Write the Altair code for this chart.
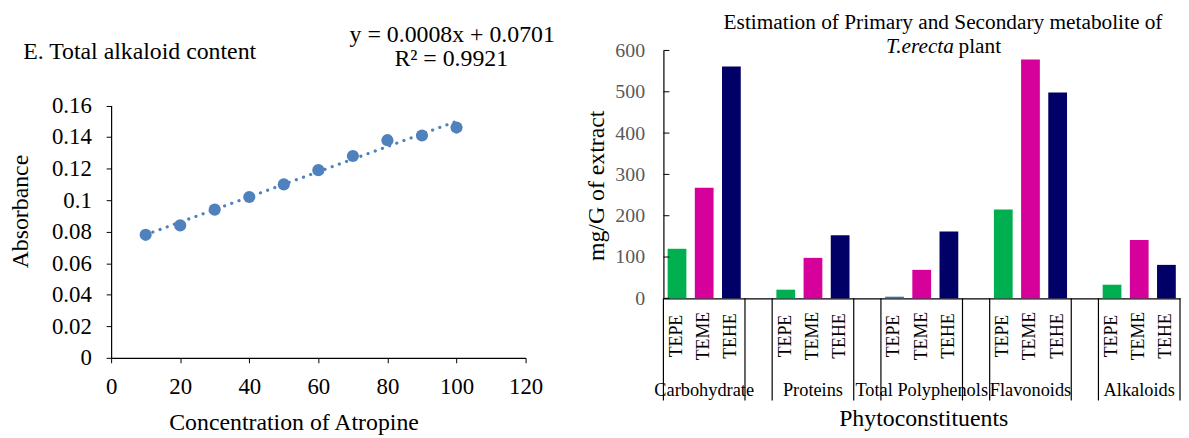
import altair as alt
import pandas as pd

# ---------------- Left panel data ----------------
conc = [10, 20, 30, 40, 50, 60, 70, 80, 90, 100]
absorb = [0.078, 0.084, 0.094, 0.102, 0.110, 0.119, 0.128, 0.138, 0.141, 0.146]
conc_ticks = [0, 20, 40, 60, 80, 100, 120]
absorb_ticks = [0, 0.02, 0.04, 0.06, 0.08, 0.1, 0.12, 0.14, 0.16]
left_heading = "E. Total alkaloid content"
equation = "y = 0.0008x + 0.0701"
r_squared = "R² = 0.9921"

# ---------------- Right panel data ----------------
constituents = ["Carbohydrate", "Proteins", "Total Polyphenols", "Flavonoids", "Alkaloids"]
extracts = ["TEPE", "TEME", "TEHE"]
tepe = [120, 21, 4, 215, 33]
teme = [268, 98, 69, 578, 141]
tehe = [561, 153, 162, 498, 81]
value_ticks = [0, 100, 200, 300, 400, 500, 600]
title_line1 = "Estimation of Primary and Secondary metabolite of"
title_italic = "T.erecta"
title_plain = "plant"

FONT = "Liberation Serif"
BLUE = "#4f81bd"
extract_colors = ["#00b050", "#d6009a", "#000066"]

common_axis = dict(
    grid=False, domainColor="black", tickColor="black", domainWidth=1.2,
    labelFont=FONT, titleFont=FONT, titleFontWeight="normal", titleColor="black",
)

# ---------------- Left chart ----------------
W1, H1 = 418, 310
left_df = pd.DataFrame({"conc": conc, "absorbance": absorb})

x_left = alt.X(
    "conc:Q",
    scale=alt.Scale(domain=[0, 120], nice=False),
    axis=alt.Axis(
        values=conc_ticks, tickSize=5, labelPadding=31, labelBaseline="alphabetic",
        labelFontSize=23, labelColor="black", labelFlush=False, labelOverlap=False,
        title="Concentration of Atropine", titleFontSize=24, titleX=184, titleY=72,
        titleAlign="center", titleBaseline="alphabetic", **common_axis,
    ),
)
y_left = alt.Y(
    "absorbance:Q",
    scale=alt.Scale(domain=[0, 0.16], nice=False, range=[H1, 55.5]),
    axis=alt.Axis(
        values=absorb_ticks, format="~g", tickSize=5, labelPadding=15,
        labelFontSize=23, labelColor="black", labelFlush=False, labelOverlap=False,
        title="Absorbance", titleFontSize=24, titleX=-91.5, titleY=162,
        titleAngle=270, titleAlign="center", titleBaseline="middle", **common_axis,
    ),
)

base_left = alt.Chart(left_df)
trend = base_left.transform_regression("conc", "absorbance").mark_line(
    color=BLUE, strokeWidth=3.2, strokeDash=[0.1, 7.6], strokeCap="round"
).encode(x=x_left, y=y_left)
points = base_left.mark_circle(size=150, opacity=1, color=BLUE).encode(x=x_left, y=y_left)

heading = alt.Chart(pd.DataFrame({"t": [left_heading]})).mark_text(
    align="left", baseline="middle", fontSize=24, font=FONT, color="black"
).encode(text="t:N", x=alt.value(-88.7), y=alt.value(2))
eq1 = alt.Chart(pd.DataFrame({"t": [equation]})).mark_text(
    align="center", baseline="middle", fontSize=24, font=FONT, color="black"
).encode(text="t:N", x=alt.value(344), y=alt.value(-16))
eq2 = alt.Chart(pd.DataFrame({"t": [r_squared]})).mark_text(
    align="center", baseline="middle", fontSize=24, font=FONT, color="black"
).encode(text="t:N", x=alt.value(343), y=alt.value(9))

left = alt.layer(trend, points, heading, eq1, eq2).properties(width=W1, height=H1)

# ---------------- Right chart ----------------
W2, H2 = 521, 250
slots = []
rows = []
group_starts = []
gap_slots = []
for gi, c in enumerate(constituents):
    for ei, (e, vals) in enumerate(zip(extracts, [tepe, teme, tehe])):
        s = f"{c}|{e}"
        slots.append(s)
        if ei == 0:
            group_starts.append(s)
        rows.append({"constituent": c, "extract": e, "value": vals[gi], "slot": s})
    if gi < len(constituents) - 1:
        g = f"gap{gi}"
        slots.append(g)
        gap_slots.append(g)
bars_df = pd.DataFrame(rows)
starts_df = pd.DataFrame({"slot": group_starts + gap_slots})
end_df = pd.DataFrame({"slot": [slots[-1]]})
outer_df = pd.DataFrame({"constituent": constituents,
                         "slot": [f"{c}|{extracts[1]}" for c in constituents]})
ticks_df = pd.DataFrame({"value": value_ticks})

x_scale = alt.Scale(domain=slots, paddingInner=0, paddingOuter=0)
x_axis = alt.Axis(
    labels=False, ticks=False, domain=True, title="Phytoconstituents",
    titleFontSize=24, titleX=262, titleY=128, titleAlign="center",
    titleBaseline="alphabetic", **common_axis,
)
y_scale = alt.Scale(domain=[0, 600], nice=False)
y_axis = alt.Axis(
    values=value_ticks, ticks=False, tickSize=0, labelPadding=19,
    labelFontSize=20, labelColor="#595959", labelOverlap=False,
    title="mg/G of extract", titleFontSize=24, titleX=-67, titleY=136,
    titleAngle=270, titleAlign="center", titleBaseline="middle", **common_axis,
)

def xs(**kw):
    return alt.X("slot:N", scale=x_scale, axis=x_axis, **kw)

def ys():
    return alt.Y("value:Q", scale=y_scale, axis=y_axis)

bars = alt.Chart(bars_df).mark_bar(width=alt.RelativeBandSize(0.69)).encode(
    x=xs(),
    y=ys(),
    color=alt.condition(
        "datum.constituent == 'Total Polyphenols' && datum.extract == 'TEPE'",
        alt.value("#41719c"),
        alt.Color("extract:N", scale=alt.Scale(domain=extracts, range=extract_colors), legend=None),
    ),
)
inside_ticks = alt.Chart(ticks_df).mark_rule(color="black", strokeWidth=1).encode(
    y=ys(), x=alt.value(0), x2=alt.value(6)
)
sep_start = alt.Chart(starts_df).mark_rule(color="black", strokeWidth=1.2).encode(
    x=xs(bandPosition=0), y=alt.value(H2), y2=alt.value(353),
)
sep_end = alt.Chart(end_df).mark_rule(color="black", strokeWidth=1.2).encode(
    x=xs(bandPosition=1), y=alt.value(H2), y2=alt.value(353),
)
inner_labels = alt.Chart(bars_df).mark_text(
    angle=270, align="center", baseline="middle", fontSize=18, font=FONT, color="black"
).encode(x=xs(), y=alt.value(288), text="extract:N")
outer_labels = alt.Chart(outer_df).mark_text(
    align="center", baseline="alphabetic", fontSize=18.5, font=FONT, color="black"
).encode(x=xs(), y=alt.value(348), text="constituent:N")

t1 = alt.Chart(pd.DataFrame({"t": [title_line1]})).mark_text(
    align="center", baseline="alphabetic", fontSize=21.5, font=FONT, color="black"
).encode(text="t:N", x=alt.value(282), y=alt.value(-21.5))
t2 = alt.Chart(pd.DataFrame({"t": [title_italic]})).mark_text(
    align="right", baseline="alphabetic", fontSize=21.5, font=FONT, fontStyle="italic", color="black"
).encode(text="t:N", x=alt.value(293), y=alt.value(2.5))
t3 = alt.Chart(pd.DataFrame({"t": [title_plain]})).mark_text(
    align="left", baseline="alphabetic", fontSize=21.5, font=FONT, color="black"
).encode(text="t:N", x=alt.value(297.6), y=alt.value(2.5))

right = alt.layer(bars, inside_ticks, sep_start, sep_end, inner_labels, outer_labels, t1, t2, t3).properties(
    width=W2, height=H2
)

chart = alt.hconcat(left, right, spacing=30).properties(
    padding={"left": 0, "right": 0, "top": 2, "bottom": 0}
).configure_view(stroke=None).configure_text(font=FONT)

chart.save("out.html", embed_options={"renderer": "svg", "actions": False})
